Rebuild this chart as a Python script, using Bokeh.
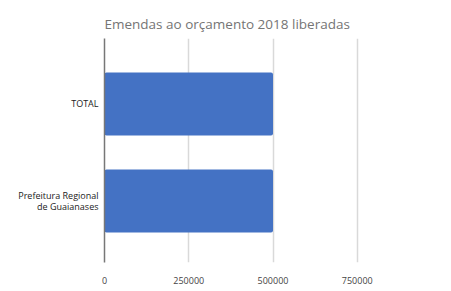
from bokeh.plotting import figure
from bokeh.models import FixedTicker, Range1d, Title
from bokeh.embed import file_html
from bokeh.resources import INLINE

categories = ["TOTAL", "Prefeitura Regional\nde Guaianases"]
values = [500000, 500000]
positions = [1, 0]
x_ticks = [0, 250000, 500000, 750000, 1000000]
x_labels = {0: "0", 250000: "250000", 500000: "500000", 750000: "750000", 1000000: ""}

p = figure(width=451, height=291, output_backend="svg", toolbar_location=None,
           x_range=Range1d(0, 1000000), y_range=Range1d(-0.634, 1.675),
           min_border_left=104, min_border_right=10, min_border_top=38, min_border_bottom=29)
p.title = None
p.add_layout(Title(text="Emendas ao orçamento 2018 liberadas", align="left",
                   text_font="Open Sans", text_font_size="13.5px", text_font_style="normal",
                   text_color="#757575", offset=0, standoff=11), "above")

p.hbar(y=positions, right=values, left=0, height=0.65, color="#4472c4",
       line_color=None, border_radius=2)

p.outline_line_color = None
p.background_fill_color = "white"
p.border_fill_color = "white"

p.xaxis.ticker = FixedTicker(ticks=x_ticks)
p.xaxis.major_label_overrides = x_labels
p.xaxis.axis_line_color = None
p.xaxis.major_tick_line_color = None
p.xaxis.minor_tick_line_color = None
p.xaxis.major_label_text_font = "Open Sans"
p.xaxis.major_label_text_font_size = "9px"
p.xaxis.major_label_text_color = "#444444"
p.xaxis.major_label_standoff = 8

p.yaxis.ticker = FixedTicker(ticks=positions)
p.yaxis.major_label_overrides = {positions[i]: categories[i] for i in range(len(categories))}
p.yaxis.axis_line_color = "#777777"
p.yaxis.axis_line_width = 1.5
p.yaxis.major_tick_line_color = None
p.yaxis.minor_tick_line_color = None
p.yaxis.major_label_text_font = "Open Sans"
p.yaxis.major_label_text_font_size = "9px"
p.yaxis.major_label_text_color = "#222222"
p.yaxis.major_label_text_line_height = 0.8
p.yaxis.major_label_standoff = 0

p.xgrid.ticker = FixedTicker(ticks=x_ticks[1:])
p.xgrid.grid_line_color = "#d9d9d9"
p.xgrid.grid_line_width = 1.5
p.ygrid.grid_line_color = None

open("out.html", "w").write(file_html(p, INLINE))
